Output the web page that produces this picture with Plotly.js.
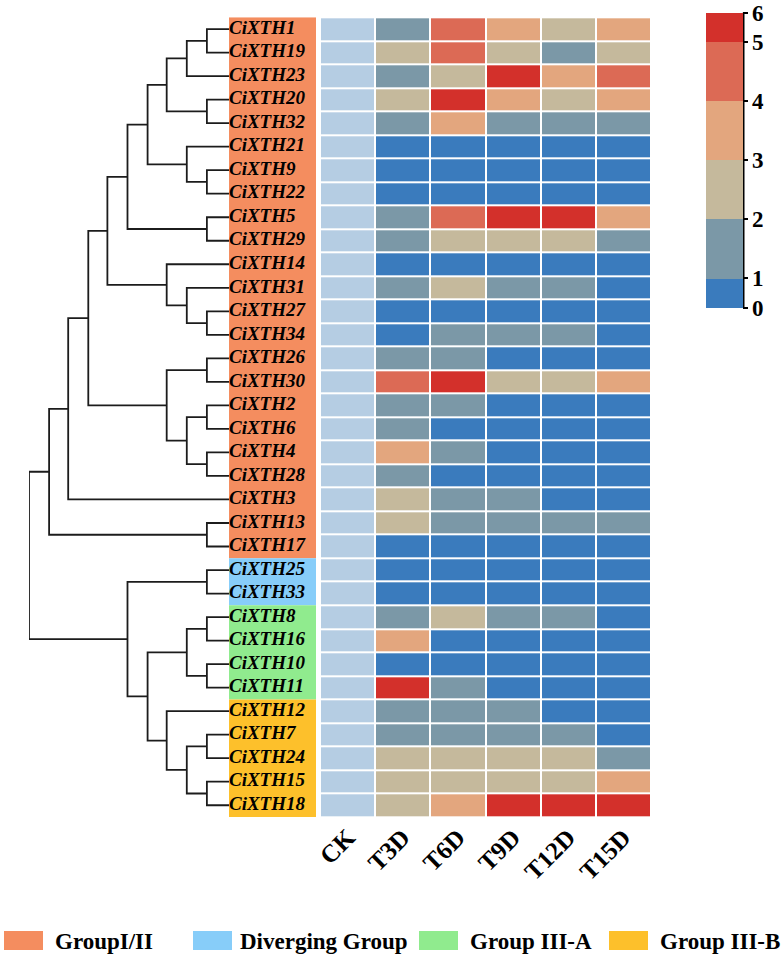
<!DOCTYPE html>
<html>
<head>
<meta charset="utf-8">
<script src="https://cdn.plot.ly/plotly-3.0.1.min.js"></script>
<style>html,body{margin:0;padding:0;background:#fff;}#chart{width:783px;height:958px;}</style>
</head>
<body>
<div id="chart"></div>
<script>
// ---------------- DATA ----------------
const genes = ['CiXTH1','CiXTH19','CiXTH23','CiXTH20','CiXTH32','CiXTH21','CiXTH9','CiXTH22','CiXTH5','CiXTH29',
  'CiXTH14','CiXTH31','CiXTH27','CiXTH34','CiXTH26','CiXTH30','CiXTH2','CiXTH6','CiXTH4','CiXTH28',
  'CiXTH3','CiXTH13','CiXTH17','CiXTH25','CiXTH33','CiXTH8','CiXTH16','CiXTH10','CiXTH11','CiXTH12',
  'CiXTH7','CiXTH24','CiXTH15','CiXTH18'];
const samples = ['CK','T3D','T6D','T9D','T12D','T15D'];
const ck   = [1,1,1,1,1,1,1,1,1,1,1,1,1,1,1,1,1,1,1,1,1,1,1,1,1,1,1,1,1,1,1,1,1,1];
const t3d  = [1.5,2.5,1.5,2.5,1.5,0.4,0.4,0.4,1.5,1.5,0.4,1.5,0.4,0.4,1.5,4.5,1.5,1.5,3.5,1.5,2.5,2.5,0.4,0.4,0.4,1.5,3.5,0.4,5.6,1.5,1.5,2.5,2.5,2.5];
const t6d  = [4.5,4.5,2.5,5.6,3.5,0.4,0.4,0.4,4.5,2.5,0.4,2.5,0.4,1.5,1.5,5.6,1.5,0.4,1.5,0.4,1.5,1.5,0.4,0.4,0.4,2.5,0.4,0.4,1.5,1.5,1.5,2.5,2.5,3.5];
const t9d  = [3.5,2.5,5.6,3.5,1.5,0.4,0.4,0.4,5.6,2.5,0.4,1.5,0.4,1.5,0.4,2.5,0.4,0.4,0.4,0.4,1.5,1.5,0.4,0.4,0.4,1.5,0.4,0.4,0.4,1.5,1.5,2.5,2.5,5.6];
const t12d = [2.5,1.5,3.5,2.5,1.5,0.4,0.4,0.4,5.6,2.5,0.4,1.5,0.4,1.5,0.4,2.5,0.4,0.4,0.4,0.4,0.4,1.5,0.4,0.4,0.4,1.5,0.4,0.4,0.4,0.4,1.5,2.5,2.5,5.6];
const t15d = [3.5,2.5,4.5,3.5,1.5,0.4,0.4,0.4,3.5,1.5,0.4,0.4,0.4,0.4,0.4,3.5,0.4,0.4,0.4,0.4,0.4,1.5,0.4,0.4,0.4,0.4,0.4,0.4,0.4,0.4,0.4,1.5,3.5,5.6];
const colorbarLabels = ['0','1','2','3','4','5','6'];
const groupNames  = ['GroupI/II','Diverging Group','Group III-A','Group III-B'];
const groupSizes  = [23, 2, 4, 5];
// dendrogram: [height, left, right]
const tree = [10,
  [9.0,
    [8.05,
      [7.05,
        [6.1,
          [5.1,
            [4.1,
              [3.15, [2.15, [1.15,'CiXTH1','CiXTH19'], 'CiXTH23'], [1.15,'CiXTH20','CiXTH32']],
              [2.15, 'CiXTH21', [1.15,'CiXTH9','CiXTH22']]
            ],
            [1.15,'CiXTH5','CiXTH29']
          ],
          [3.15, 'CiXTH14', [2.15, 'CiXTH31', [1.15,'CiXTH27','CiXTH34']]]
        ],
        [3.15, [1.15,'CiXTH26','CiXTH30'], [2.15, [1.15,'CiXTH2','CiXTH6'], [1.15,'CiXTH4','CiXTH28']]]
      ],
      'CiXTH3'
    ],
    [1.15,'CiXTH13','CiXTH17']
  ],
  [5.1,
    [1.15,'CiXTH25','CiXTH33'],
    [4.1,
      [2.15, [1.15,'CiXTH8','CiXTH16'], [1.15,'CiXTH10','CiXTH11']],
      [3.15, 'CiXTH12', [2.15, [1.15,'CiXTH7','CiXTH24'], [1.15,'CiXTH15','CiXTH18']]]
    ]
  ]
];

// ---------------- STYLE ----------------
const W = 783, H = 958;
const px = v => v / W;
const py = v => 1 - v / H;
const heatColors = ['#3a7bbd','#7b98a7','#c5b99c','#e3a67e','#dc6a55','#d3302b'];
const ckColor = '#b5cde3';
const groupColors = ['#f48d5f','#87cdf9','#90eb8e','#fdc02b'];
const serif = 'Liberation Serif';

// colour-bar position transform (half-height bands at both ends)
function cbPos(v){ if (v <= 1) return v*0.5; if (v <= 5) return v - 0.5; return 4.5 + (v-5)*0.5; }

const series = [t3d, t6d, t9d, t12d, t15d];
const rowIdx = genes.map((g,i)=>i);
const z = genes.map((g,i)=>series.map(s=>cbPos(s[i])));
const bnd = [0,0.1,0.3,0.5,0.7,0.9,1];
const colorscale = [];
heatColors.forEach((c,k)=>{ colorscale.push([bnd[k],c]); colorscale.push([bnd[k+1],c]); });

// dendrogram segments
const dx = [], dy = [];
function walk(node){
  if (typeof node === 'string') return {y: genes.indexOf(node), h: 0};
  const [h,a,b] = node;
  const A = walk(a), B = walk(b);
  dx.push(A.h, h, h, B.h, null);
  dy.push(A.y, A.y, B.y, B.y, null);
  return {y: (A.y+B.y)/2, h: h};
}
walk(tree);

const traces = [
  { type:'heatmap', x:['CK'], y:rowIdx, z:ck.map(v=>[v]), colorscale:[[0,ckColor],[1,ckColor]],
    showscale:false, xgap:2, ygap:2, hoverinfo:'skip' },
  { type:'heatmap', x:samples.slice(1), y:rowIdx, z:z, zmin:0, zmax:5, colorscale:colorscale,
    xgap:2, ygap:2,
    colorbar:{ x:px(706), xanchor:'left', y:py(12.7), yanchor:'top', len:295, lenmode:'pixels',
      thickness:37, thicknessmode:'pixels', outlinewidth:0, xpad:0, ypad:0,
      tickvals:colorbarLabels.map(t=>cbPos(+t)), ticktext:colorbarLabels,
      ticks:'outside', ticklen:5, tickwidth:2, tickcolor:'#000',
      tickfont:{family:serif, size:23, color:'#000', weight:'bold'} } },
  { type:'scatter', mode:'lines', x:dx, y:dy, xaxis:'x2', yaxis:'y',
    line:{color:'#1c1c1c', width:1.8}, cliponaxis:false, hoverinfo:'skip', showlegend:false },
  { type:'scatter', mode:'text', x:genes.map(()=>0), y:rowIdx, text:genes, xaxis:'x3', yaxis:'y',
    textposition:'middle right', cliponaxis:false, showlegend:false, hoverinfo:'skip',
    textfont:{family:serif, size:19, color:'#000', weight:'bold', style:'italic'} }
];

// label strip backgrounds
const shapes = [];
let start = -0.5;
groupSizes.forEach((n,k)=>{
  shapes.push({type:'rect', xref:'x3', yref:'y', x0:0, x1:1, y0:start, y1:start+n,
    fillcolor:groupColors[k], line:{width:0}, layer:'below'});
  start += n;
});
// colour-bar right edge line
shapes.push({type:'line', xref:'paper', yref:'paper', x0:px(743.5), x1:px(743.5), y0:py(12.7), y1:py(307.7),
  line:{color:'#000', width:2}});
// bottom legend
const legX = [4, 193, 419, 609];
const legTextX = [53, 238, 468, 658];
const annotations = [];
groupNames.forEach((g,k)=>{
  shapes.push({type:'rect', xref:'paper', yref:'paper', x0:px(legX[k]), x1:px(legX[k]+39),
    y0:py(950), y1:py(931), fillcolor:groupColors[k], line:{width:0}});
  annotations.push({xref:'paper', yref:'paper', x:px(legTextX[k]), y:py(941), xanchor:'left', yanchor:'middle',
    text:g, showarrow:false, font:{family:serif, size:23, color:'#000', weight:'bold'}});
});

const layout = {
  width:W, height:H, margin:{l:0,r:0,t:0,b:0}, paper_bgcolor:'#fff', plot_bgcolor:'rgba(0,0,0,0)',
  showlegend:false,
  xaxis:{ domain:[px(320), px(651)], type:'category', categoryorder:'array', categoryarray:samples,
    range:[-0.5,5.5], tickangle:-45, ticks:'', showgrid:false, zeroline:false, showline:false,
    tickfont:{family:serif, size:25, color:'#000', weight:'bold'}, anchor:'y' },
  yaxis:{ domain:[py(817), py(17.3)], range:[33.5,-0.5], showticklabels:false, showgrid:false,
    zeroline:false, ticks:'' },
  xaxis2:{ domain:[px(29), px(230)], range:[10,0], anchor:'y', showticklabels:false, showgrid:false,
    zeroline:false, ticks:'' },
  xaxis3:{ domain:[px(229), px(316)], range:[0,1], anchor:'y', showticklabels:false, showgrid:false,
    zeroline:false, ticks:'' },
  shapes:shapes, annotations:annotations
};

Plotly.newPlot('chart', traces, layout, {staticPlot:true, displayModeBar:false});
</script>
</body>
</html>
